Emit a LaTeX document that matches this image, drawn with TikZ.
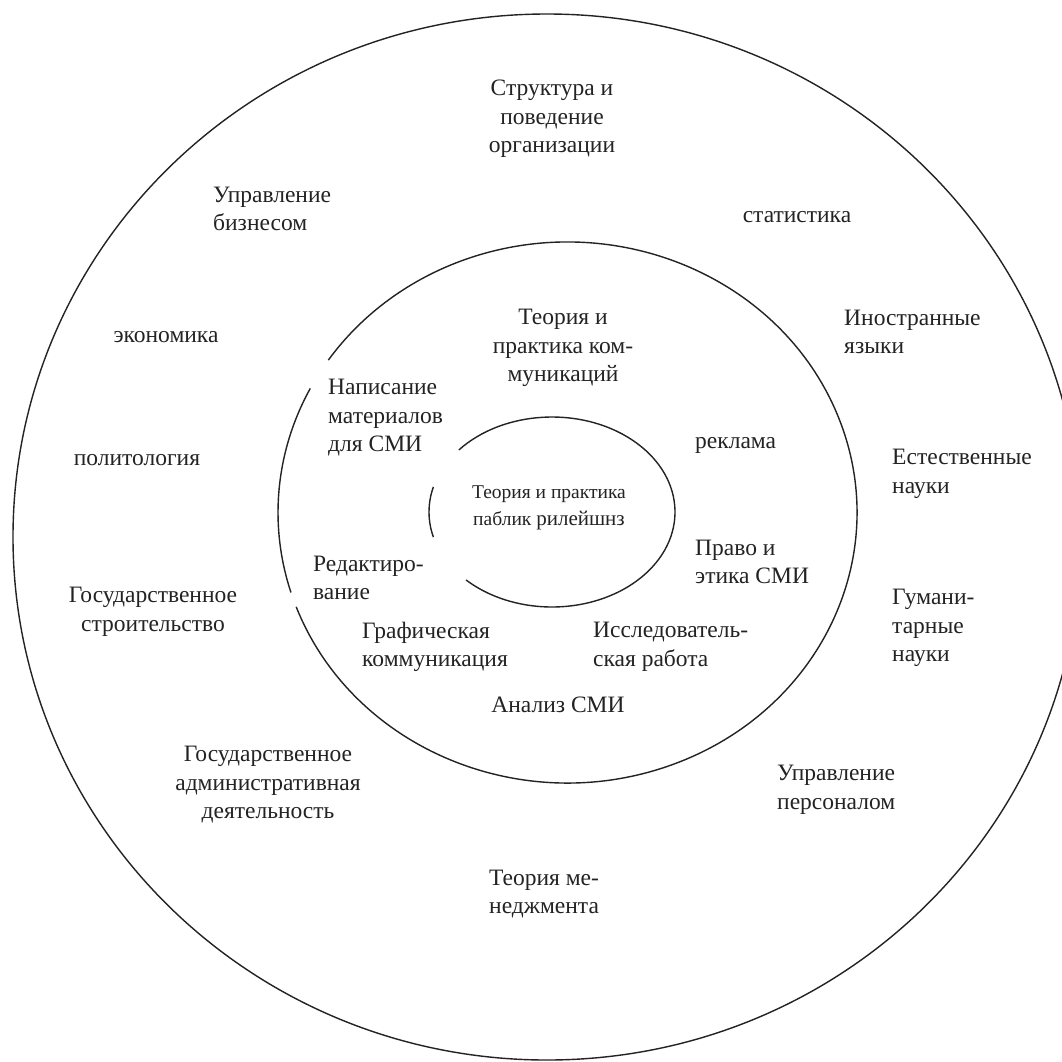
\documentclass[tikz,border=0pt]{standalone}
\usepackage{fontspec}
\setmainfont{Liberation Serif}
\definecolor{ink}{RGB}{35,35,35}
\begin{document}
\begin{tikzpicture}[x=1pt,y=-1pt,
  ring/.style={line width=1.4pt, draw=ink},
  lbl/.style={font=\fontsize{23.5}{28.5}\selectfont, inner sep=0pt, text=ink},
  lblL/.style={lbl, align=left, anchor=west},
  lblC/.style={lbl, align=center},
  core/.style={font=\fontsize{19.5}{26.5}\selectfont, inner sep=0pt, text=ink, align=center}]
\useasboundingbox (0,0) rectangle (1062,1061);
\fill[white] (0,0) rectangle (1062,1061);
% centres of the rings
\coordinate (co) at (547,537);
\coordinate (cm) at (567.5,512.5);
\coordinate (ci) at (552,512);
% outer ring
\draw[ring] (co) ellipse [x radius=534, y radius=523];
% middle ring (with two small breaks on the left)
\draw[ring] ([shift={(-152.7:289.5 and 270.5)}]cm) arc[start angle=-152.7, end angle=-197.2, x radius=289.5, y radius=270.5];
\draw[ring] ([shift={(-200.4:289.5 and 270.5)}]cm) arc[start angle=-200.4, end angle=-505.7, x radius=289.5, y radius=270.5];
% inner ring (open on the left)
\draw[ring] ([shift={(-139.2:123 and 95)}]ci) arc[start angle=-139.2, end angle=134.3, x radius=123, y radius=95];
\draw[ring] ([shift={(-164.7:123 and 95)}]ci) arc[start angle=-164.7, end angle=-195.3, x radius=123, y radius=95];
% outer ring labels
\node[lblC] (t1) at (552,119) {Структура и\\поведение\\организации};
\node[lblL] (t2) at (213,209) {Управление\\бизнесом};
\node[lblC] (t3) at (797,217) {статистика};
\node[lblC] (t4) at (166,337) {экономика};
\node[lblC] (t5) at (137,460) {политология};
\node[lblC] (t6) at (153,612) {Государственное\\строительство};
\node[lblL] (t7) at (844,332) {Иностранные\\языки};
\node[lblL] (t8) at (892,474) {Естественные\\науки};
\node[lblL] (t9) at (892,628) {Гумани-\\тарные\\науки};
\node[lblC] (t10) at (268,785) {Государственное\\административная\\деятельность};
\node[lblL] (t11) at (777,790) {Управление\\персоналом};
\node[lblL] (t12) at (489,894) {Теория ме-\\неджмента};
% middle ring labels
\node[lblC] (m1) at (563,348) {Теория и\\практика ком-\\муникаций};
\node[lblL] (m2) at (328,418) {Написание\\материалов\\для СМИ};
\node[lblL] (m3) at (695,445) {реклама};
\node[lblL] (m4) at (695,562) {Право и\\этика СМИ};
\node[lblL] (m5) at (313,578) {Редактиро-\\вание};
\node[lblL] (m6) at (362,647) {Графическая\\коммуникация};
\node[lblL] (m7) at (593,647) {Исследователь-\\ская работа};
\node[lblC] (m8) at (558,705) {Анализ СМИ};
% core label
\node[core] (c1) at (549,508) {Теория и практика\\паблик {\fontsize{21}{26.5}\selectfont рилейшнз}};
\end{tikzpicture}
\end{document}
